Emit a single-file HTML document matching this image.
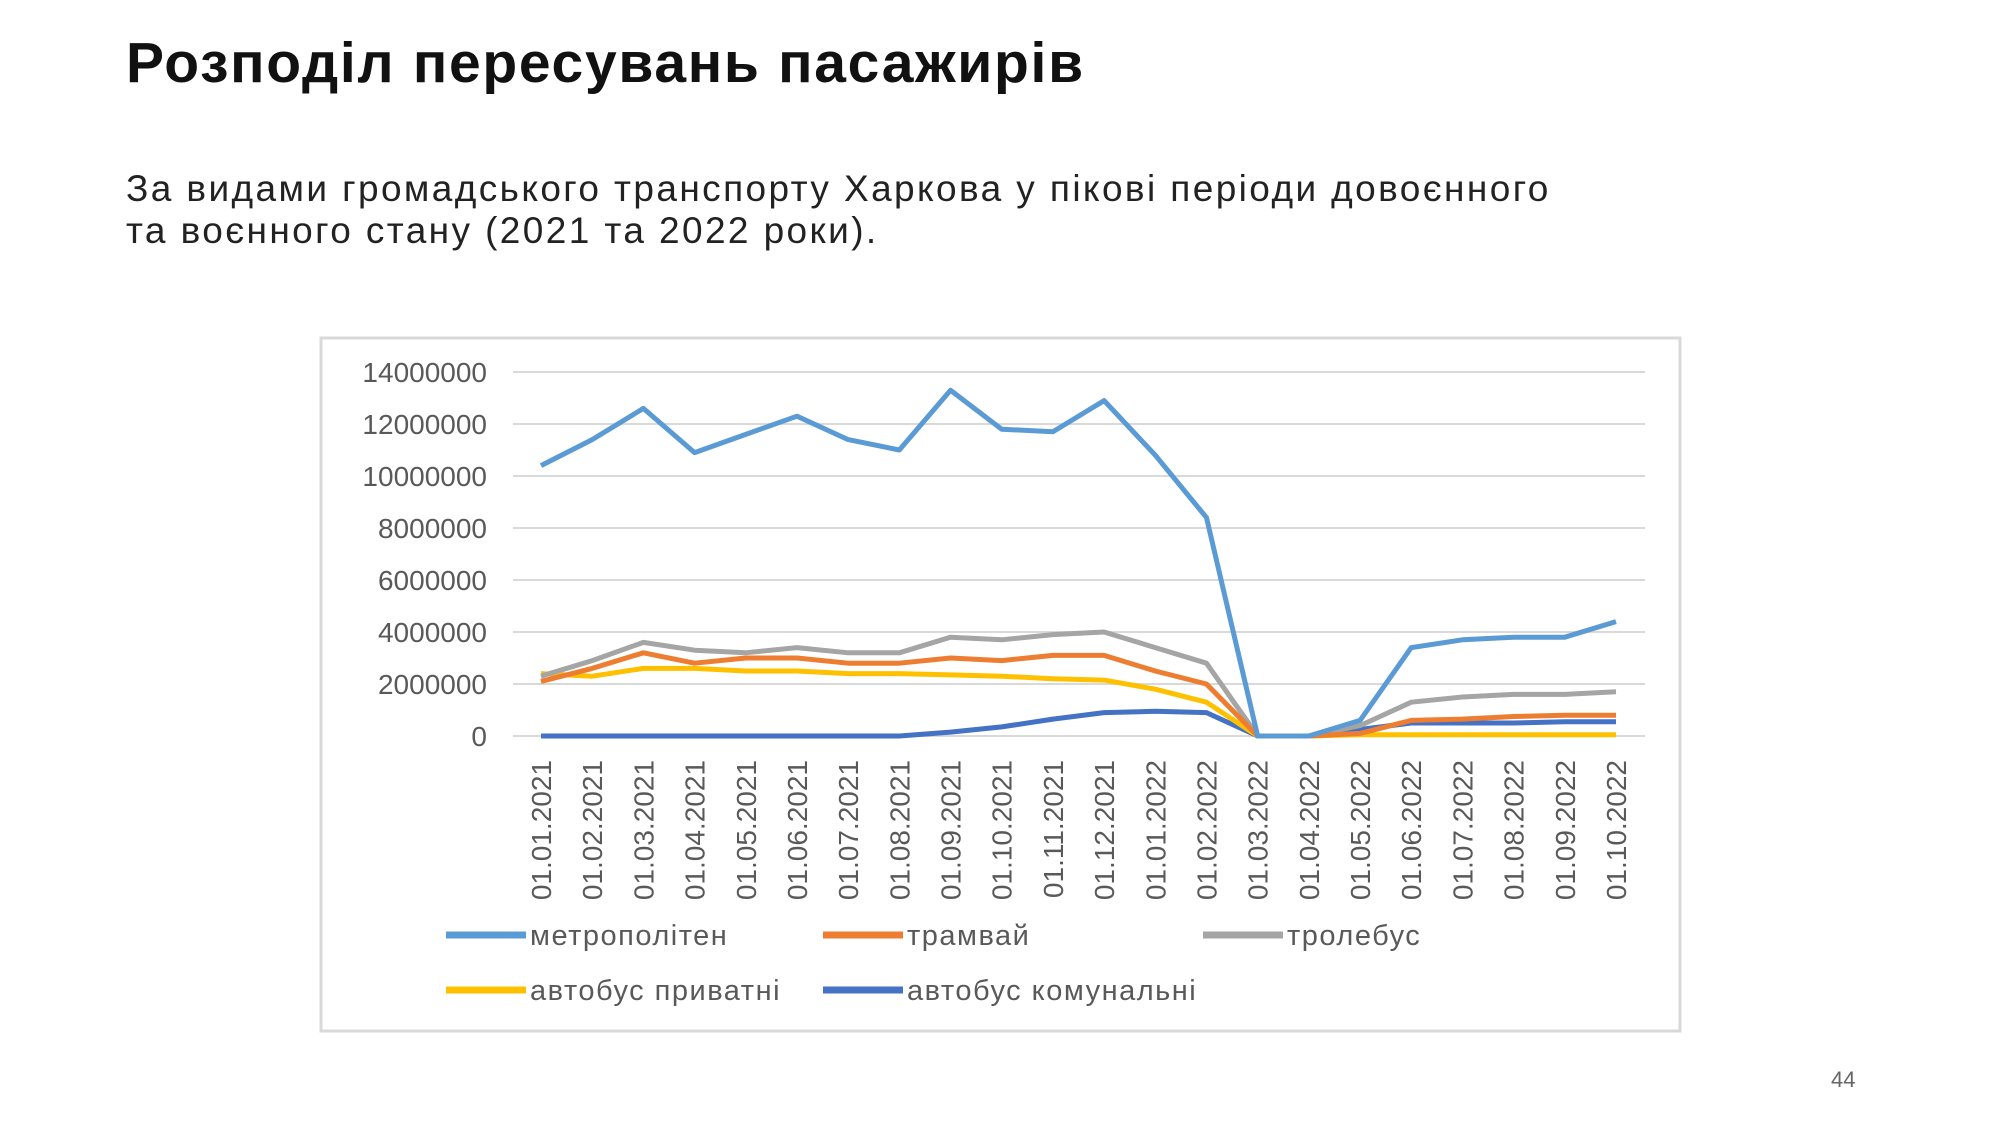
<!DOCTYPE html>
<html><head><meta charset="utf-8"><style>
body{margin:0;width:2000px;height:1121px;background:#fff;overflow:hidden;font-family:"Liberation Sans",sans-serif;}
.t{position:absolute;left:126px;top:30px;font-size:57px;font-weight:bold;color:#111;letter-spacing:1.7px;}
.s{position:absolute;left:126px;top:168px;font-size:37px;line-height:42px;color:#222;letter-spacing:2.4px;}
.pn{position:absolute;left:1831px;top:1067px;font-size:22px;color:#666;}
</style></head><body>
<div class="t">Розподіл пересувань пасажирів</div>
<div class="s">За видами громадського транспорту Харкова у пікові періоди довоєнного<br>та воєнного стану (2021 та 2022 роки).</div>
<div class="pn">44</div>
<svg id="c" width="2000" height="1121" style="position:absolute;left:0;top:0"></svg>
<script>
const categories=["01.01.2021","01.02.2021","01.03.2021","01.04.2021","01.05.2021","01.06.2021","01.07.2021","01.08.2021","01.09.2021","01.10.2021","01.11.2021","01.12.2021","01.01.2022","01.02.2022","01.03.2022","01.04.2022","01.05.2022","01.06.2022","01.07.2022","01.08.2022","01.09.2022","01.10.2022"];
const yTicks=[0,2000000,4000000,6000000,8000000,10000000,12000000,14000000];
const seriesNames=["метрополітен","трамвай","тролебус","автобус приватні","автобус комунальні"];
const metro=[10.4,11.4,12.6,10.9,11.6,12.3,11.4,11.0,13.3,11.8,11.7,12.9,10.8,8.4,0,0,0.6,3.4,3.7,3.8,3.8,4.4];
const tram=[2.1,2.6,3.2,2.8,3.0,3.0,2.8,2.8,3.0,2.9,3.1,3.1,2.5,2.0,0,0,0.1,0.6,0.65,0.75,0.8,0.8];
const trolley=[2.3,2.9,3.6,3.3,3.2,3.4,3.2,3.2,3.8,3.7,3.9,4.0,3.4,2.8,0,0,0.4,1.3,1.5,1.6,1.6,1.7];
const busPrivate=[2.4,2.3,2.6,2.6,2.5,2.5,2.4,2.4,2.35,2.3,2.2,2.15,1.8,1.3,0,0,0.05,0.05,0.05,0.05,0.05,0.05];
const busCommunal=[0,0,0,0,0,0,0,0,0.15,0.35,0.65,0.9,0.95,0.9,0,0,0.25,0.5,0.5,0.5,0.55,0.55];
const colors=["#5b9bd5","#ed7d31","#a5a5a5","#ffc000","#4472c4"];
const svg=document.getElementById('c');const NS="http://www.w3.org/2000/svg";
function mk(t,a,p){const e=document.createElementNS(NS,t);for(const k in a)e.setAttribute(k,a[k]);(p||svg).appendChild(e);return e;}
const x=i=>541+i*(1616-541)/(categories.length-1);
const y=v=>736-v/14000000*(736-372);
const box=mk('rect',{x:321,y:338,width:1359,height:693,fill:'#fff',stroke:'#d9d9d9','stroke-width':3});


yTicks.forEach(v=>{
 const g=mk('line',{x1:513,x2:1645,y1:y(v),y2:y(v),stroke:'#d9d9d9','stroke-width':2});
 
 
 const t=mk('text',{x:487,y:y(v)+10,'text-anchor':'end','font-size':28,fill:'#595959'});t.textContent=v;
 
 
});
categories.forEach((c,i)=>{
 const t=mk('text',{transform:`translate(${x(i)+10},760) rotate(-90)`,'text-anchor':'end','font-size':28,fill:'#595959'});t.textContent=c;
 
 
});
[metro,tram,trolley,busPrivate,busCommunal].slice().reverse().forEach((d,ri)=>{
 const si=4-ri;
 const p=mk('polyline',{points:d.map((v,i)=>x(i)+','+y(v*1e6)).join(' '),fill:'none',stroke:colors[si],'stroke-width':5,'stroke-linejoin':'round'});
 
 
});
const leg=[[446,940],[823,940],[1203,940],[446,995],[823,995]];
seriesNames.forEach((n,i)=>{
 const [lx,ly0]=leg[i];const ly=ly0-5;
 const l=mk('line',{x1:lx,x2:lx+80,y1:ly,y2:ly,stroke:colors[i],'stroke-width':7});
 
 
 const t=mk('text',{x:lx+84,y:ly+10,'font-size':29,'letter-spacing':1.5,fill:'#595959'});t.textContent=n;
 
 
});
</script>
</body></html>
